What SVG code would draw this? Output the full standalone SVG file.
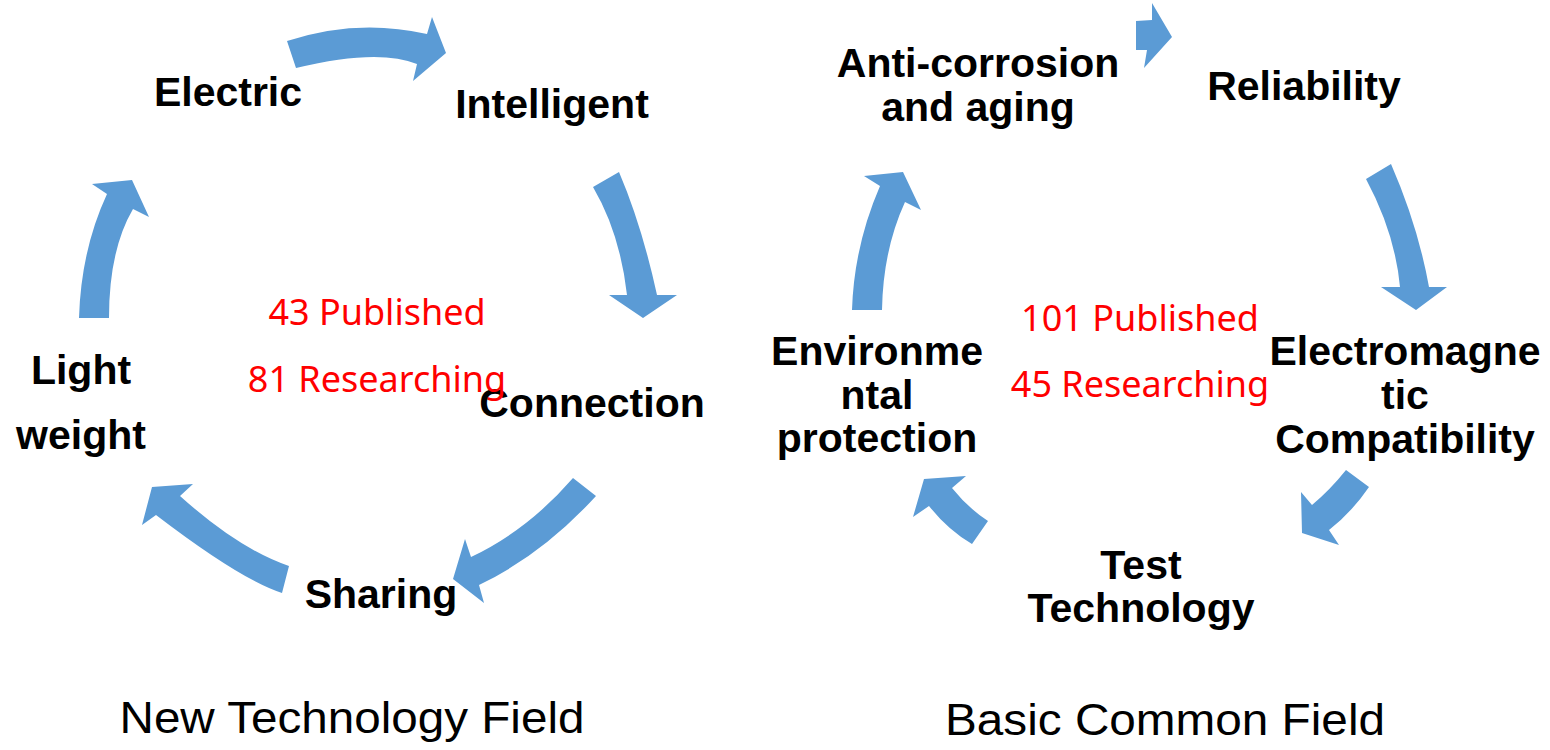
<svg xmlns="http://www.w3.org/2000/svg" width="1550" height="750" viewBox="0 0 1550 750">
  <style>
    .arrow { fill: #5B9BD5; stroke: none; }
    .label { font-family: "Liberation Sans", Arial, sans-serif; font-weight: bold; font-size: 41px; fill: #000; text-anchor: middle; }
    .count { font-family: "Noto Sans", "Open Sans", sans-serif; font-size: 36px; fill: #FF0000; text-anchor: middle; }
    .title { font-family: "Liberation Sans", Arial, sans-serif; font-size: 44px; fill: #000; text-anchor: middle; }
  </style>
  <rect width="1550" height="750" fill="#FFFFFF"/>

  <!-- curved block arrows of both cycles -->
  <g id="connectors">
    <!-- New technology cycle -->
    <path class="arrow" d="M287,41 Q357,18 427,34 L432,17 L446,53 L413,81 L417,64 Q378,48 296,68 Z"/>
    <path class="arrow" d="M619,172 Q642,226 657,295 L677,295 L643,318 L609,295 L627,295 Q620,233 593,187 Z"/>
    <path class="arrow" d="M596,496 Q542,555 479,585 L484,603 L453,579 L465,539 L471,557 Q528,530 573,478 Z"/>
    <path class="arrow" d="M282,593 Q241,580 156,515 L142,525 L152,487 L193,484 L180,496 Q239,549 289,566 Z"/>
    <path class="arrow" d="M79,318 Q81,250 107,194 L92,184 L132,180 L149,217 L133,209 Q109,250 109,318 Z"/>
    <!-- Basic common cycle -->
    <path class="arrow" d="M1136,21 L1152,20 L1152,3 L1172,37 L1144,68 L1147,50 L1136,50 Z"/>
    <path class="arrow" d="M1391,164 Q1418,226 1429,287 L1447,287 L1416,310 L1381,287 L1400,287 Q1395,233 1366,179 Z"/>
    <path class="arrow" d="M1369,487 Q1352,512 1329,530 L1339,545 L1302,533 L1301,492 L1312,505 Q1330,490 1346,470 Z"/>
    <path class="arrow" d="M972,544 Q948,530 929,506 L913,517 L924,479 L966,476 L952,488 Q968,508 988,521 Z"/>
    <path class="arrow" d="M852,310 Q854,246 880,186 L864,176 L903,172 L921,210 L905,202 Q883,250 882,310 Z"/>
  </g>

  <!-- New technology field nodes -->
  <g id="node-electric"><text class="label" x="228" y="106">Electric</text></g>
  <g id="node-intelligent"><text class="label" x="552" y="118">Intelligent</text></g>
  <g id="node-connection"><text class="label" x="592" y="417">Connection</text></g>
  <g id="node-sharing"><text class="label" x="381" y="608">Sharing</text></g>
  <g id="node-lightweight">
    <text class="label" x="81" y="384">Light</text>
    <text class="label" x="81" y="449">weight</text>
  </g>
  <g id="stats-new">
    <text class="count" x="377" y="325">43 Published</text>
    <text class="count" x="377" y="392">81 Researching</text>
  </g>
  <g id="title-new"><text class="title" x="352" y="733" textLength="465" lengthAdjust="spacingAndGlyphs">New Technology Field</text></g>

  <!-- Basic common field nodes -->
  <g id="node-anticorrosion">
    <text class="label" x="978" y="77">Anti-corrosion</text>
    <text class="label" x="978" y="121">and aging</text>
  </g>
  <g id="node-reliability"><text class="label" x="1304" y="100">Reliability</text></g>
  <g id="node-emc">
    <text class="label" x="1405" y="365">Electromagne</text>
    <text class="label" x="1405" y="409">tic</text>
    <text class="label" x="1405" y="453">Compatibility</text>
  </g>
  <g id="node-test">
    <text class="label" x="1141" y="579">Test</text>
    <text class="label" x="1141" y="622">Technology</text>
  </g>
  <g id="node-environmental">
    <text class="label" x="877" y="365">Environme</text>
    <text class="label" x="877" y="409">ntal</text>
    <text class="label" x="877" y="452">protection</text>
  </g>
  <g id="stats-basic">
    <text class="count" x="1140" y="331">101 Published</text>
    <text class="count" x="1140" y="397">45 Researching</text>
  </g>
  <g id="title-basic"><text class="title" x="1165" y="735" textLength="440" lengthAdjust="spacingAndGlyphs">Basic Common Field</text></g>
</svg>
